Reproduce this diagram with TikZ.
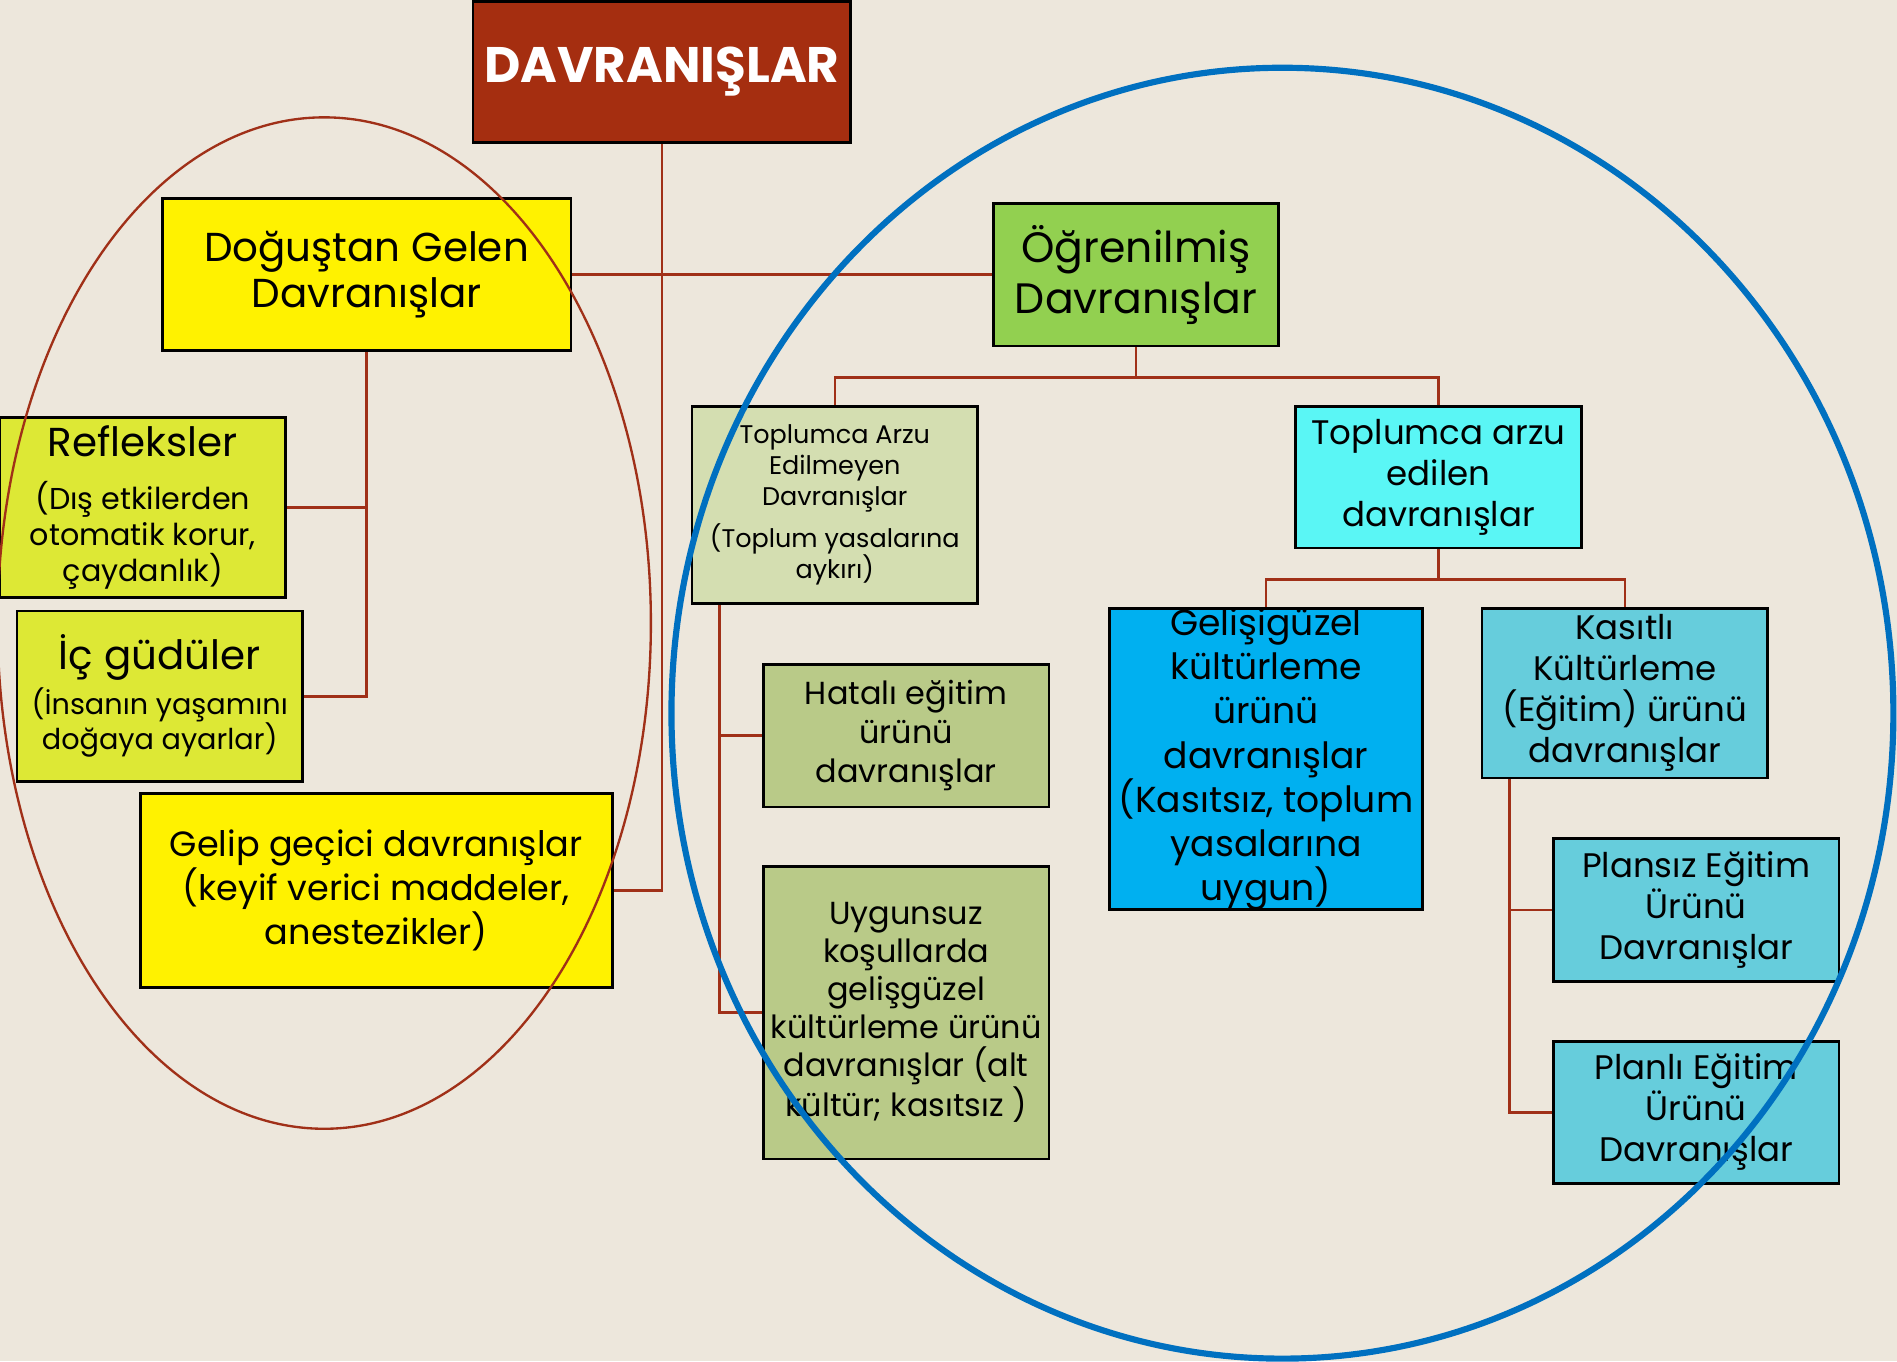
\documentclass[tikz,border=0pt]{standalone}
\usepackage{fontspec}
\setmainfont{Poppins}
\usepackage{tikz}
\definecolor{bg}{RGB}{237,231,220}
\definecolor{brick}{RGB}{165,46,16}
\definecolor{wire}{RGB}{160,48,24}
\definecolor{lime}{RGB}{221,232,53}
\definecolor{leaf}{RGB}{146,208,80}
\definecolor{sage}{RGB}{212,222,177}
\definecolor{olive}{RGB}{185,202,136}
\definecolor{aqua}{RGB}{90,246,245}
\definecolor{sky}{RGB}{0,176,240}
\definecolor{teal}{RGB}{102,205,220}
\definecolor{ring}{RGB}{0,112,192}
\newcommand{\sz}[2]{\fontsize{#1}{#2}\selectfont}

\begin{document}
\begin{tikzpicture}[box/.style={draw=black, line width=1.3pt, align=center, inner sep=1pt, minimum width=4.72cm},
  wire/.style={draw=wire, line width=1.2pt}]
\fill[bg] (0,0) rectangle (31.36,-22.5);
\useasboundingbox (0,0) rectangle (31.36,-22.5);
\node[box, fill=brick, text=white, minimum width=6.24cm, minimum height=2.34cm, font=\sz{23.5}{26}\bfseries] (top) at (10.94,-1.19) {DAVRANIŞLAR};
\node[box, fill=yellow, minimum width=6.76cm, minimum height=2.52cm, font=\sz{19}{21.6}] (dog) at (6.06,-4.54) {Doğuştan Gelen\\Davranışlar};
\node[box, fill=leaf, minimum height=2.36cm, font=\sz{20}{24}] (ogr) at (18.78,-4.54) {Öğrenilmiş\\Davranışlar};
\node[box, fill=lime, minimum height=2.98cm, font=\sz{14.2}{16.8}] (ref) at (2.36,-8.39) {\sz{19}{22}Refleksler\\[8pt](Dış etkilerden\\otomatik korur,\\çaydanlık)};
\node[box, fill=lime, minimum height=2.82cm, font=\sz{13.5}{16.8}] (ic) at (2.64,-11.51) {\sz{19}{20}İç güdüler\\[2pt](İnsanın yaşamını\\doğaya ayarlar)};
\node[box, fill=yellow, minimum width=7.8cm, minimum height=3.2cm, font=\sz{16.5}{19.3}] (gel) at (6.22,-14.72) {Gelip geçici davranışlar\\(keyif verici maddeler,\\anestezikler)};
\node[box, fill=sage, minimum height=3.26cm, font=\sz{12}{14.6}] (tae) at (13.80,-8.35) {Toplumca Arzu\\Edilmeyen\\Davranışlar\\[5pt](Toplum yasalarına\\aykırı)};
\node[box, fill=olive, minimum height=2.36cm, font=\sz{15}{18.2}] (hat) at (14.98,-12.16) {Hatalı eğitim\\ürünü\\davranışlar};
\node[box, fill=olive, minimum height=4.84cm, font=\sz{15}{17.9}] (uyg) at (14.98,-16.74) {Uygunsuz\\koşullarda\\gelişgüzel\\kültürleme ürünü\\davranışlar (alt\\kültür; kasıtsız )};
\node[box, fill=aqua, minimum height=2.34cm, font=\sz{16}{19.3}] (ist) at (23.78,-7.89) {Toplumca arzu\\edilen\\davranışlar};
\node[box, fill=sky, minimum width=5.18cm, minimum height=4.98cm, inner ysep=-6pt, font=\sz{17}{20.8}] (gls) at (20.93,-12.55) {Gelişigüzel\\kültürleme\\ürünü\\davranışlar\\(Kasıtsız, toplum\\yasalarına\\uygun)};
\node[box, fill=teal, minimum height=2.8cm, font=\sz{16}{19.3}] (kas) at (26.86,-11.46) {Kasıtlı\\Kültürleme\\(Eğitim) ürünü\\davranışlar};
\node[box, fill=teal, minimum height=2.36cm, font=\sz{16}{19.3}] (pls) at (28.04,-15.04) {Plansız Eğitim\\Ürünü\\Davranışlar};
\node[box, fill=teal, minimum height=2.34cm, font=\sz{16}{19.3}] (pli) at (28.04,-18.39) {Planlı Eğitim\\Ürünü\\Davranışlar};
\draw[wire] (top.south) |- (gel.east);
\draw[wire] (dog.east) -- (ogr.west);
\draw[wire] (dog.south) |- (ref.east);
\draw[wire] (dog.south) |- (ic.east);
\draw[wire] (ogr.south) -- ++(0,-0.5) -| (tae.north);
\draw[wire] (ogr.south) -- ++(0,-0.5) -| (ist.north);
\draw[wire] (tae.south west) ++(0.48,0) |- (hat.west);
\draw[wire] (tae.south west) ++(0.48,0) |- (uyg.west);
\draw[wire] (ist.south) -- ++(0,-0.5) -| (gls.north);
\draw[wire] (ist.south) -- ++(0,-0.5) -| (kas.north);
\draw[wire] (kas.south west) ++(0.48,0) |- (pls.west);
\draw[wire] (kas.south west) ++(0.48,0) |- (pli.west);
\draw[wire, line width=1.1pt] (5.36,-10.30) ellipse (5.40 and 8.36);
\draw[ring, line width=2.9pt] (21.20,-11.79) ellipse (10.10 and 10.67);
\end{tikzpicture}
\end{document}
